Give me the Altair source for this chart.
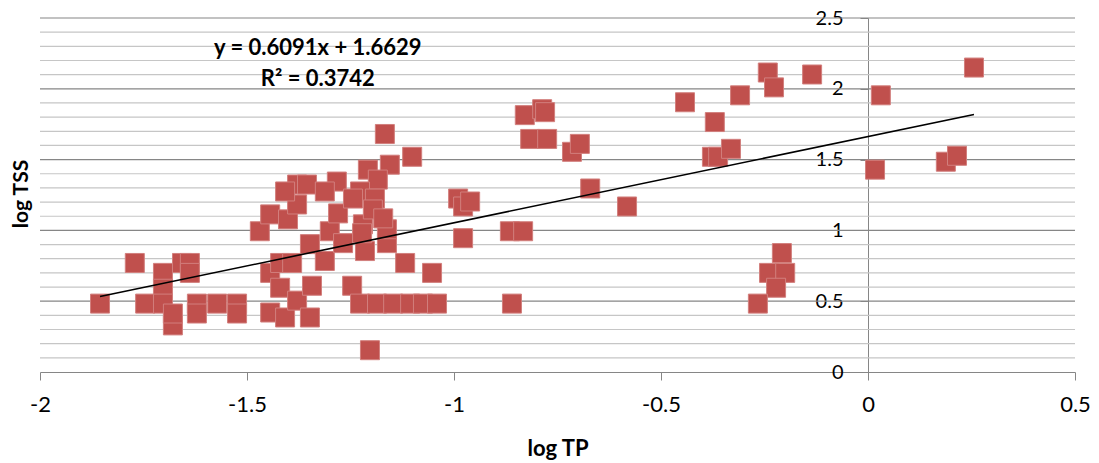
import altair as alt
import pandas as pd

log_tp = [
    -1.855, -1.771, -1.746, -1.703, -1.703, -1.703, -1.679, -1.679, -1.657, -1.638,
    -1.638, -1.621, -1.621, -1.572, -1.524, -1.524, -1.469, -1.444, -1.444, -1.444,
    -1.420, -1.420, -1.408, -1.401, -1.391, -1.379, -1.379, -1.348, -1.343, -1.348,
    -1.312, -1.300, -1.280, -1.268, -1.246, -1.227, -1.215, -1.203, -1.220, -1.186,
    -1.147, -1.106, -1.075, -1.041, -1.162, -1.162, -1.118, -1.053, -0.978, -1.167,
    -1.101, -1.208, -1.155, -1.184, -1.283, -1.379, -1.355, -1.408, -1.312, -1.227,
    -1.244, -1.191, -1.196, -1.171, -0.990, -0.978, -0.961, -0.829, -0.787, -0.780,
    -0.816, -0.775, -0.715, -0.696, -0.671, -0.582, -0.865, -0.833, -0.860, -0.442,
    -0.370, -0.309, -0.242, -0.227, -0.135, -0.377, -0.362, -0.331, 0.031, 0.017,
    0.188, 0.215, 0.256, -0.208, -0.239, -0.200, -0.222, -0.266, -1.222,
]
log_tss = [
    0.483, 0.770, 0.483, 0.700, 0.588, 0.483, 0.329, 0.413, 0.770, 0.770,
    0.700, 0.483, 0.413, 0.483, 0.483, 0.413, 0.994, 0.700, 0.420, 1.113,
    0.770, 0.595, 0.385, 1.078, 0.770, 1.183, 0.504, 0.385, 0.609, 0.903,
    0.784, 0.994, 1.120, 0.910, 0.609, 0.483, 0.854, 0.154, 1.043, 0.483,
    0.483, 0.483, 0.483, 0.483, 0.910, 1.008, 0.770, 0.700, 0.945, 1.681,
    1.520, 1.429, 1.464, 1.359, 1.345, 1.324, 1.324, 1.275, 1.275, 1.275,
    1.225, 1.225, 1.148, 1.085, 1.225, 1.169, 1.204, 1.814, 1.856, 1.835,
    1.646, 1.646, 1.555, 1.611, 1.296, 1.169, 0.994, 0.994, 0.483, 1.905,
    1.765, 1.954, 2.115, 2.010, 2.101, 1.520, 1.520, 1.576, 1.954, 1.429,
    1.485, 1.527, 2.150, 0.840, 0.700, 0.700, 0.595, 0.483, 0.980,
]

slope = 0.6091
intercept = 1.6629
equation_lines = ["y = 0.6091x + 1.6629", "R² = 0.3742"]

x_ticks = [-2, -1.5, -1, -0.5, 0, 0.5]
y_ticks = [0, 0.5, 1, 1.5, 2, 2.5]
minor_ticks = [0.1, 0.2, 0.3, 0.4, 0.6, 0.7, 0.8, 0.9, 1.1, 1.2, 1.3, 1.4,
               1.6, 1.7, 1.8, 1.9, 2.1, 2.2, 2.3, 2.4]

FONT = "Lato"
GRAY = "#868686"
FS = 22

pts = pd.DataFrame({"x": log_tp, "y": log_tss})
xmin, xmax = min(log_tp), max(log_tp)
trend = pd.DataFrame({"x": [xmin, xmax],
                      "y": [slope * xmin + intercept, slope * xmax + intercept]})
minor_df = pd.DataFrame({"y": minor_ticks})
major_df = pd.DataFrame({"y": [v for v in y_ticks if v > 0]})
eq_df = pd.DataFrame({"x": [-1.329, -1.329], "y": [2.29, 2.066], "t": equation_lines})

xscale = alt.Scale(domain=[-2, 0.5], nice=False, zero=False)
yscale = alt.Scale(domain=[0, 2.5], nice=False, zero=True)

xaxis = alt.Axis(values=x_ticks, grid=False, domainColor=GRAY, tickColor=GRAY,
                 tickSize=8, labelFontSize=FS, labelFont=FONT, labelColor="black",
                 labelExpr="'' + datum.value", labelPadding=14, labelFlush=False,
                 title="log TP", titleFont=FONT, titleFontSize=FS,
                 titleFontWeight="bold", titleColor="black", titlePadding=23)
yaxis = alt.Axis(values=y_ticks, grid=False, domainColor=GRAY, tickColor=GRAY,
                 tickSize=8, labelFontSize=20, labelFont=FONT, labelColor="black",
                 labelExpr="'' + datum.value", labelPadding=17, offset=-828,
                 labelFlush=False, title=None)

minor = alt.Chart(minor_df).mark_rule(color="#c6c6c6", strokeWidth=1.2).encode(
    y=alt.Y("y:Q", scale=yscale, axis=yaxis))
major = alt.Chart(major_df).mark_rule(color=GRAY, strokeWidth=1.2).encode(
    y=alt.Y("y:Q", scale=yscale))

points = alt.Chart(pts).mark_square(size=361, fill="#C0504D", fillOpacity=1,
                                    stroke="#D27F7D", strokeWidth=1).encode(
    x=alt.X("x:Q", scale=xscale, axis=xaxis),
    y=alt.Y("y:Q", scale=yscale))

line = alt.Chart(trend).mark_line(color="black", strokeWidth=1.6).encode(
    x=alt.X("x:Q", scale=xscale), y=alt.Y("y:Q", scale=yscale))

eq = alt.Chart(eq_df).mark_text(font=FONT, fontSize=FS, fontWeight="bold",
                                color="black", align="center", baseline="middle").encode(
    x=alt.X("x:Q", scale=xscale), y=alt.Y("y:Q", scale=yscale), text="t:N")

ytitle = alt.Chart(pd.DataFrame({"t": ["log TSS"]})).mark_text(
    font=FONT, fontSize=21, fontWeight="bold", color="black", angle=270,
    align="center", baseline="middle").encode(
    x=alt.value(-18), y=alt.value(176), text="t:N")

chart = alt.layer(minor, major, points, line, eq, ytitle).properties(
    width=1035, height=354,
    autosize=alt.AutoSizeParams(type="none"),
    padding={"left": 32, "top": 10, "right": 16, "bottom": 100},
).configure_view(stroke=None)

chart.save("out.html", embed_options={"renderer": "svg", "actions": False})
